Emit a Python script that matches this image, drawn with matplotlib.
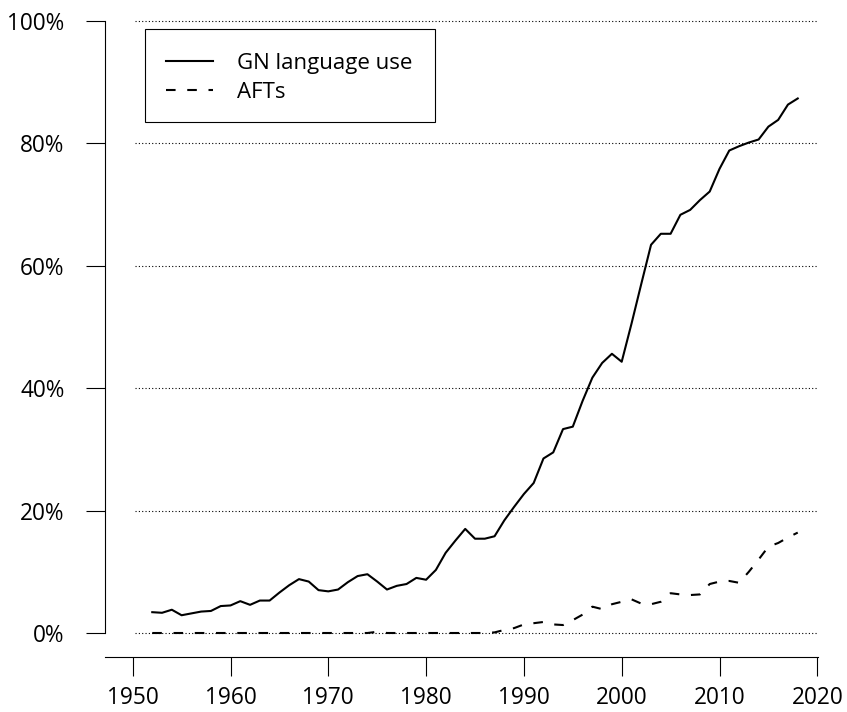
import matplotlib
matplotlib.use("Agg")
import matplotlib.pyplot as plt
from matplotlib.patches import Rectangle

plt.rcParams['font.family'] = ['Open Sans', 'DejaVu Sans']

# ---- data ----
years = list(range(1952, 2019))
gn_use = [3.4, 3.3, 3.8, 2.9, 3.2, 3.5, 3.6, 4.4, 4.5, 5.2,
          4.6, 5.3, 5.3, 6.6, 7.8, 8.8, 8.4, 7.0, 6.8, 7.1,
          8.3, 9.3, 9.6, 8.4, 7.1, 7.7, 8.0, 9.0, 8.7, 10.3,
          13.1, 15.1, 17.0, 15.4, 15.4, 15.8, 18.4, 20.6, 22.7, 24.5,
          28.5, 29.5, 33.3, 33.7, 37.9, 41.7, 44.1, 45.6, 44.3, 50.5,
          57.0, 63.4, 65.2, 65.2, 68.3, 69.1, 70.7, 72.1, 75.8, 78.8,
          79.5, 80.1, 80.6, 82.7, 83.8, 86.3, 87.3]
afts = [0, 0, 0, 0, 0, 0, 0, 0, 0, 0,
        0, 0, 0, 0, 0, 0, 0, 0, 0, 0,
        0, 0, 0, 0.2, 0, 0, 0, 0, 0, 0,
        0, 0, 0, 0, 0, 0.1, 0.5, 0.8, 1.4, 1.6,
        1.8, 1.4, 1.3, 2.1, 3.0, 4.3, 3.9, 4.7, 5.1, 5.5,
        4.8, 4.7, 5.1, 6.5, 6.3, 6.2, 6.3, 8.0, 8.4, 8.5,
        8.2, 10.0, 12.0, 14.1, 14.7, 15.6, 16.4]
series_labels = ["GN language use", "AFTs"]
x_ticks = [1950, 1960, 1970, 1980, 1990, 2000, 2010, 2020]
y_ticks = [0, 20, 40, 60, 80, 100]
y_tick_labels = ["0%", "20%", "40%", "60%", "80%", "100%"]

# ---- figure ----
W, H = 847, 712
fig = plt.figure(figsize=(W / 100, H / 100), dpi=100)
ax_l, ax_r, ax_t, ax_b = 105, 817.6, 15, 657.3
ax = fig.add_axes([ax_l / W, 1 - ax_b / H, (ax_r - ax_l) / W, (ax_b - ax_t) / H])

px_per_year = (817.3 - 132.7) / 70
px_per_pct = (633 - 20.7) / 100
ax.set_xlim(1950 - (132.7 - ax_l) / px_per_year, 2020 + (ax_r - 817.3) / px_per_year)
ax.set_ylim((633 - ax_b) / px_per_pct, (633 - ax_t) / px_per_pct)

# dotted gridlines
for yv in y_ticks:
    ax.hlines(yv, 1950.25, 2020, colors='black', linewidth=0.8,
              linestyles=(0, (1, 2)), zorder=1)

ax.plot(years, gn_use, color='black', linewidth=1.5, solid_joinstyle='round',
        label=series_labels[0], zorder=3)
ax.plot(years, afts, color='black', linewidth=1.5, dashes=(4.6, 5.6),
        label=series_labels[1], zorder=3)

ax.spines['top'].set_visible(False)
ax.spines['right'].set_visible(False)
ax.spines['left'].set_bounds(0, 100)
ax.spines['left'].set_linewidth(0.8)
ax.spines['bottom'].set_linewidth(0.8)

ax.set_xticks(x_ticks)
ax.set_xticklabels([str(v) for v in x_ticks])
ax.set_yticks(y_ticks)
ax.set_yticklabels(y_tick_labels)
ax.tick_params(axis='both', direction='out', length=14, width=0.8,
               labelsize=16.3, colors='black')
ax.tick_params(axis='x', pad=7.0)
ax.tick_params(axis='y', pad=15)

# legend (frame drawn separately)
lfs = 16
em = lfs * 100 / 72
aw = ax_r - ax_l
ah = ax_b - ax_t
lx0 = (144.5 - ax_l) / aw
lx1 = (435 - ax_l) / aw
ltop = 1 - (32 - ax_t) / ah
leg = ax.legend(loc='upper left', bbox_to_anchor=(lx0, ltop - 0.4, lx1 - lx0, 0.4),
                mode='expand', borderaxespad=0, fontsize=lfs,
                frameon=False, borderpad=21 / em, labelspacing=0.37,
                handlelength=47 / em, handletextpad=24 / em)
frame_rect = Rectangle((lx0, 1 - (122 - ax_t) / ah), lx1 - lx0, (122 - 29) / ah,
                       transform=ax.transAxes, facecolor='white',
                       edgecolor='black', linewidth=0.8, zorder=4)
ax.add_patch(frame_rect)
leg.set_zorder(5)

fig.savefig("out.png", dpi=100)
